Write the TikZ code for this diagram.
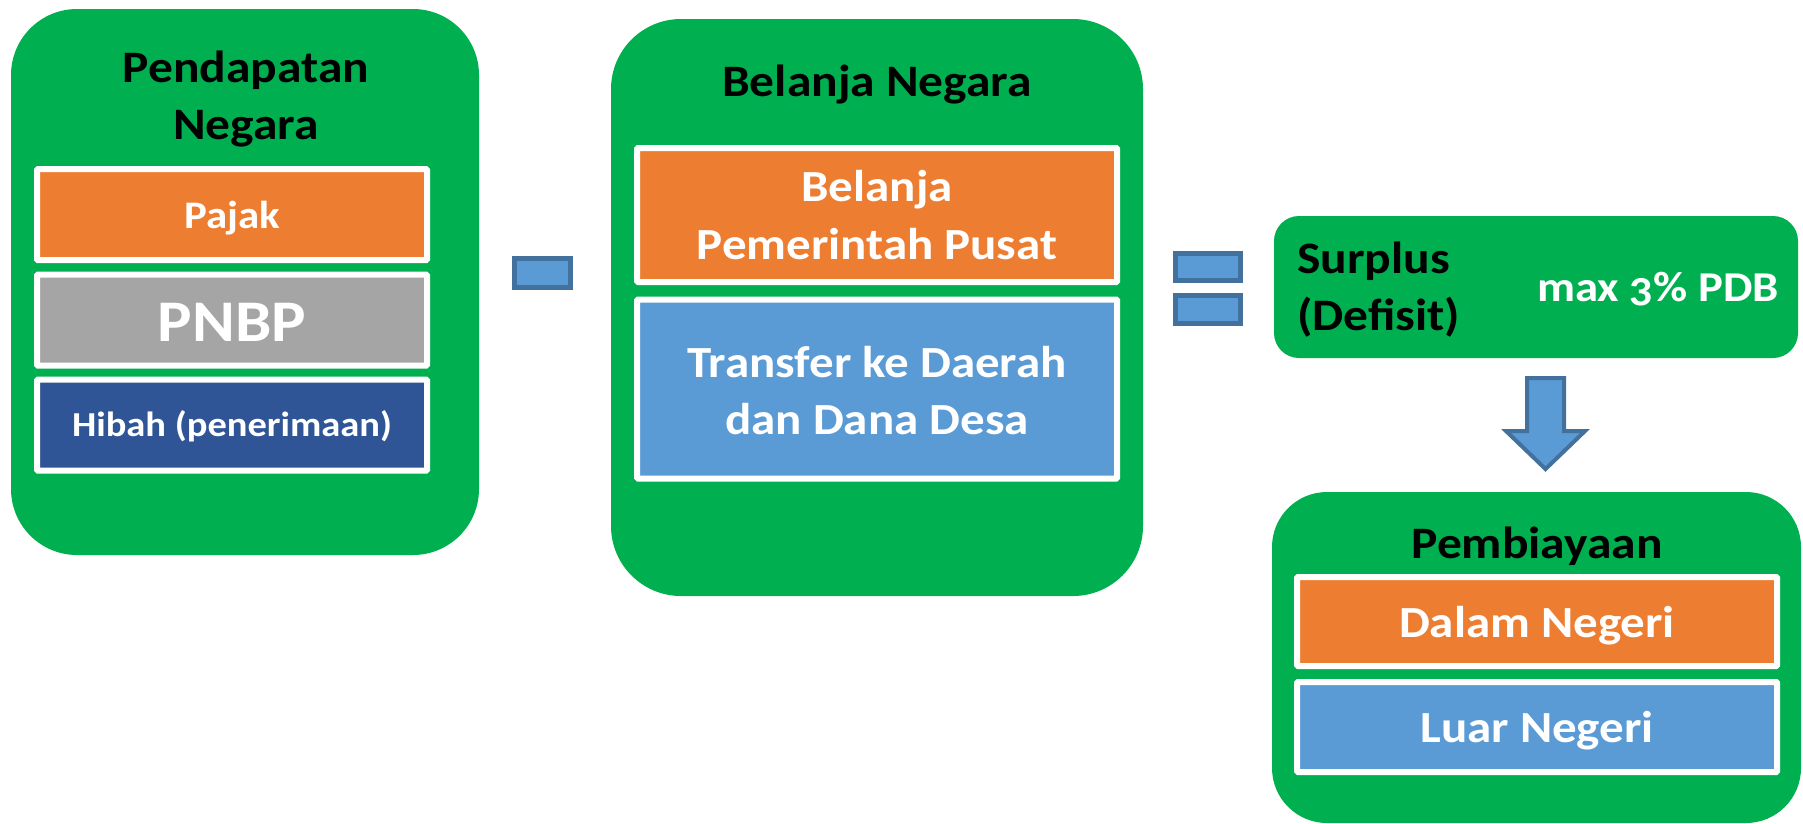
\documentclass[tikz,border=0pt]{standalone}
\usepackage{fontspec}
\setmainfont{Carlito}[FakeStretch=1.1]
\definecolor{grn}{HTML}{00B050}
\definecolor{org}{HTML}{ED7D31}
\definecolor{gry}{HTML}{A5A5A5}
\definecolor{dblue}{HTML}{2F5597}
\definecolor{lblue}{HTML}{5B9BD5}
\definecolor{sblue}{HTML}{41719C}
\begin{document}
\begin{tikzpicture}[x=1pt,y=-1pt,
  panel/.style={fill=grn, draw=none, inner sep=0pt},
  item/.style={draw=white, line width=6pt, inner sep=0pt, rounded corners=1pt},
  ttl/.style={anchor=base, font=\fontsize{45}{54}\selectfont\bfseries, text=black, inner sep=0pt},
  wt/.style={anchor=base, font=\fontsize{44.5}{54}\selectfont\bfseries, text=white, inner sep=0pt},
  opbar/.style={fill=lblue, draw=sblue, line width=5pt, inner sep=0pt}
]
\useasboundingbox (0,0) rectangle (1803,823);
\fill[white] (0,0) rectangle (1803,823);

% panels
\node[panel, rounded corners=66pt, minimum width=468pt, minimum height=546pt] (pend) at (245,282) {};
\node[panel, rounded corners=70pt, minimum width=532pt, minimum height=577pt] (bel) at (877,307.5) {};
\node[panel, rounded corners=25pt, minimum width=524pt, minimum height=142pt] (surp) at (1536,287) {};
\node[panel, rounded corners=55pt, minimum width=529pt, minimum height=331pt] (pemb) at (1536.5,657.5) {};

% items
\node[item, fill=org,   minimum width=390pt, minimum height=91pt]  (pajak) at (232,214.5) {};
\node[item, fill=gry,   minimum width=390pt, minimum height=91pt]  (pnbp)  at (232,320) {};
\node[item, fill=dblue, minimum width=390pt, minimum height=91pt]  (hibah) at (232,425) {};
\node[item, fill=org,   minimum width=480pt, minimum height=134pt] (belpp) at (877,215) {};
\node[item, fill=lblue, minimum width=480pt, minimum height=179pt] (tkdd)  at (877,389) {};
\node[item, fill=org,   minimum width=480pt, minimum height=89pt]  (dalam) at (1537,621.5) {};
\node[item, fill=lblue, minimum width=480pt, minimum height=90pt]  (luar)  at (1537,727) {};

% operators
\node[opbar, minimum width=56pt, minimum height=29pt] (minus) at (542.5,273) {};
\node[opbar, minimum width=65pt, minimum height=27pt] (eqa) at (1208,267) {};
\node[opbar, minimum width=65pt, minimum height=28pt] (eqb) at (1208,309.5) {};

% block arrow
\coordinate (arrtop) at (1545.5,378);
\draw[fill=lblue, draw=sblue, line width=4pt, line join=miter]
  (1527,378) -- (1564,378) -- (1564,431) -- (1585,431) -- (1545.5,469)
  -- (1506,431) -- (1527,431) -- cycle;

% texts
\node[ttl] (t1a) at (246,82) {Pendapatan};
\node[ttl] (t1b) at (246,139) {Negara};
\node[ttl] (t2) at (877,96) {Belanja Negara};
\node[ttl] (t4) at (1537,558) {Pembiayaan};
\node[ttl, anchor=base west] (t3a) at (1297,273) {Surplus};
\node[ttl, anchor=base west] (t3b) at (1297,330) {(Defisit)};
\node[wt, anchor=base east, font=\fontsize{42.5}{52}\selectfont\bfseries\addfontfeatures{Numbers=OldStyle}] (max) at (1779,301) {max 3\% PDB};

\node[wt, font=\fontsize{39}{48}\selectfont\bfseries] (tpajak) at (232,228.6) {Pajak};
\node[wt, font=\fontsize{59}{70}\selectfont\bfseries] (tpnbp) at (232,341) {PNBP};
\node[wt, font=\fontsize{35}{44}\selectfont\bfseries] (thibah) at (232,436) {Hibah (penerimaan)};
\node[wt] (tbel1) at (877,201) {Belanja};
\node[wt] (tbel2) at (877,259) {Pemerintah Pusat};
\node[wt] (ttk1) at (877,377) {Transfer ke Daerah};
\node[wt] (ttk2) at (877,434) {dan Dana Desa};
\node[wt] (tdalam) at (1537,637) {Dalam Negeri};
\node[wt] (tluar) at (1537,742) {Luar Negeri};
\end{tikzpicture}
\end{document}
